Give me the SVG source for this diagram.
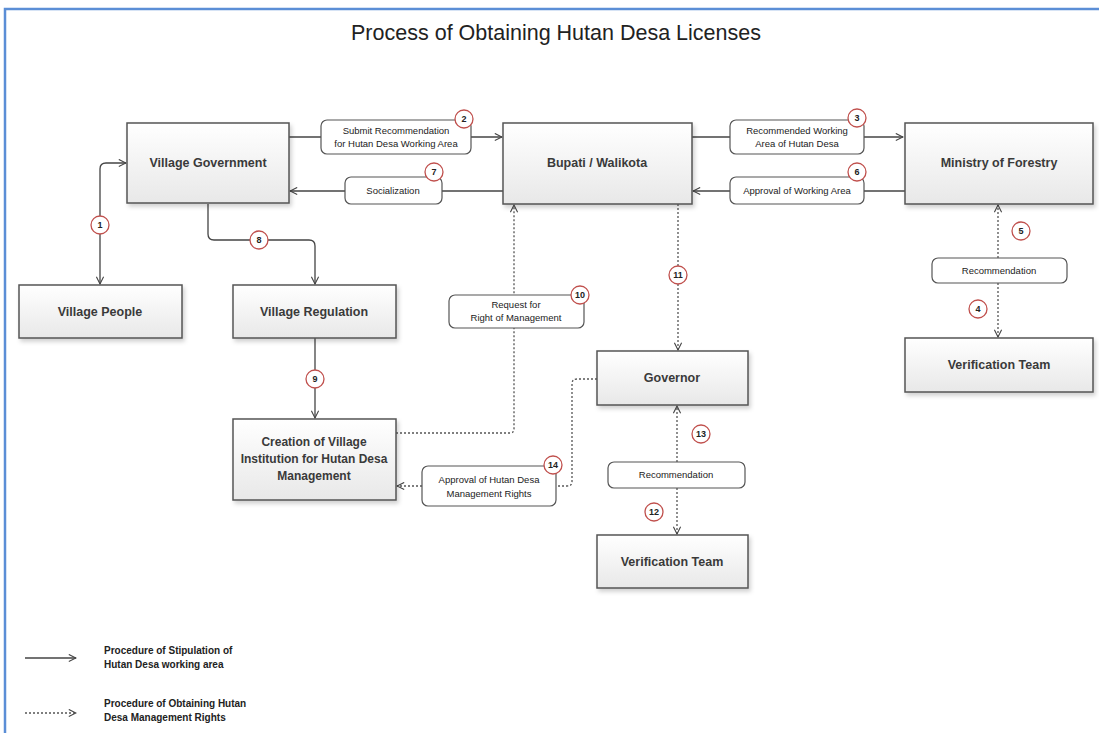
<svg xmlns="http://www.w3.org/2000/svg" width="1099" height="733" viewBox="0 0 1099 733">
<defs>
<linearGradient id="g" x1="0" y1="0" x2="0" y2="1">
<stop offset="0" stop-color="#ffffff"/>
<stop offset="1" stop-color="#e8e8e8"/>
</linearGradient>
<filter id="sh" x="-10%" y="-10%" width="130%" height="140%">
<feDropShadow dx="2" dy="3" stdDeviation="2" flood-color="#000" flood-opacity="0.18"/>
</filter>
<marker id="ah" viewBox="0 0 10 10" refX="9" refY="5" markerWidth="9" markerHeight="9" orient="auto-start-reverse" markerUnits="userSpaceOnUse">
<path d="M1,1 L9,5 L1,9" fill="none" stroke="#444" stroke-width="1.2"/>
</marker>
</defs>
<style>
.node rect{fill:url(#g);stroke:#555;stroke-width:1.5;filter:url(#sh)}
.node text{font-family:"Liberation Sans",Arial,sans-serif;font-size:12.5px;fill:#3a3a3a;text-anchor:middle;font-weight:bold}
.node text.c{font-size:12px}
.lbl rect{fill:#fff;stroke:#555;stroke-width:1.2}
.lbl text{font-family:"Liberation Sans",Arial,sans-serif;font-size:9.5px;fill:#222;text-anchor:middle}
.bd circle{fill:#fff;stroke:#c0504d;stroke-width:1.3}
.bd text{font-family:"Liberation Sans",Arial,sans-serif;font-size:9px;fill:#222;text-anchor:middle;font-weight:bold}
.s{fill:none;stroke:#444;stroke-width:1.3}
.d{fill:none;stroke:#555;stroke-width:1.3;stroke-dasharray:2,2}
.leg{font-family:"Liberation Sans",Arial,sans-serif;font-size:10px;fill:#222;font-weight:bold}
</style>
<rect width="1099" height="733" fill="#fff"/>
<path d="M5,733 V9 H1099" fill="none" stroke="#5b8ed6" stroke-width="2.5"/>
<text x="556" y="40" font-family="'Liberation Sans',Arial,sans-serif" font-size="21.5" fill="#222" text-anchor="middle">Process of Obtaining Hutan Desa Licenses</text>

<g id="connectors">
<path class="s" d="M126,163 H106 Q100,163 100,169 V284" marker-start="url(#ah)" marker-end="url(#ah)"/>
<path class="s" d="M289,137 H502" marker-end="url(#ah)"/>
<path class="s" d="M503,191 H290" marker-end="url(#ah)"/>
<path class="s" d="M692,137 H903" marker-end="url(#ah)"/>
<path class="s" d="M905,191 H693" marker-end="url(#ah)"/>
<path class="s" d="M208,204 V234 Q208,240 214,240 H309 Q315,240 315,246 V284" marker-end="url(#ah)"/>
<path class="s" d="M315,338 V418" marker-end="url(#ah)"/>
<path class="d" d="M396,433 H510 Q514,433 514,429 V205" marker-end="url(#ah)"/>
<path class="d" d="M678,204 V350" marker-end="url(#ah)"/>
<path class="d" d="M597,379 H577 Q572,379 572,384 V482 Q572,486 567,486 H556"/>
<path class="d" d="M422,486 H397" marker-end="url(#ah)"/>
<path class="d" d="M677,462 V406" marker-end="url(#ah)"/>
<path class="d" d="M677,488 V534" marker-end="url(#ah)"/>
<path class="d" d="M998,258 V205" marker-end="url(#ah)"/>
<path class="d" d="M998,283 V337" marker-end="url(#ah)"/>
</g>

<g id="n-village-government" class="node"><rect x="127" y="123" width="162" height="80"/><text x="208" y="167">Village Government</text></g>
<g id="n-bupati" class="node"><rect x="503" y="123" width="189" height="81"/><text x="597" y="167">Bupati / Walikota</text></g>
<g id="n-ministry" class="node"><rect x="905" y="123" width="188" height="81"/><text x="999" y="167">Ministry of Forestry</text></g>
<g id="n-village-people" class="node"><rect x="19" y="285" width="163" height="53"/><text x="100" y="316">Village People</text></g>
<g id="n-village-regulation" class="node"><rect x="233" y="285" width="163" height="53"/><text x="314" y="316">Village Regulation</text></g>
<g id="n-creation" class="node"><rect x="233" y="419" width="163" height="81"/><text class="c" x="314" y="446">Creation of Village</text><text class="c" x="314" y="463">Institution for Hutan Desa</text><text class="c" x="314" y="480">Management</text></g>
<g id="n-governor" class="node"><rect x="597" y="351" width="151" height="54"/><text x="672" y="382">Governor</text></g>
<g id="n-verif-mid" class="node"><rect x="597" y="535" width="151" height="53"/><text x="672" y="566">Verification Team</text></g>
<g id="n-verif-right" class="node"><rect x="905" y="338" width="188" height="54"/><text x="999" y="369">Verification Team</text></g>

<g id="l-2" class="lbl"><rect x="321" y="120" width="150" height="34" rx="6"/><text x="396" y="134">Submit Recommendation</text><text x="396" y="147">for Hutan Desa Working Area</text></g>
<g id="l-3" class="lbl"><rect x="730" y="120" width="134" height="34" rx="6"/><text x="797" y="134">Recommended Working</text><text x="797" y="147">Area of Hutan Desa</text></g>
<g id="l-7" class="lbl"><rect x="345" y="177" width="97" height="27" rx="6"/><text x="393" y="194">Socialization</text></g>
<g id="l-6" class="lbl"><rect x="730" y="177" width="134" height="27" rx="6"/><text x="797" y="194">Approval of Working Area</text></g>
<g id="l-rec-right" class="lbl"><rect x="932" y="258" width="135" height="25" rx="6"/><text x="999" y="274">Recommendation</text></g>
<g id="l-10" class="lbl"><rect x="449" y="295" width="135" height="33" rx="6"/><text x="516" y="308">Request for</text><text x="516" y="321">Right of Management</text></g>
<g id="l-14" class="lbl"><rect x="422" y="466" width="134" height="40" rx="6"/><text x="489" y="483">Approval of Hutan Desa</text><text x="489" y="497">Management Rights</text></g>
<g id="l-rec-mid" class="lbl"><rect x="608" y="462" width="137" height="26" rx="6"/><text x="676" y="478">Recommendation</text></g>

<g class="bd">
<g id="b1"><circle cx="100" cy="225" r="9"/><text x="100" y="228">1</text></g>
<g id="b2"><circle cx="464" cy="119" r="9"/><text x="464" y="122">2</text></g>
<g id="b3"><circle cx="857" cy="118" r="9"/><text x="857" y="121">3</text></g>
<g id="b4"><circle cx="978" cy="309" r="9"/><text x="978" y="312">4</text></g>
<g id="b5"><circle cx="1021" cy="231" r="9"/><text x="1021" y="234">5</text></g>
<g id="b6"><circle cx="857" cy="172" r="9"/><text x="857" y="175">6</text></g>
<g id="b7"><circle cx="434" cy="172" r="9"/><text x="434" y="175">7</text></g>
<g id="b8"><circle cx="259" cy="240" r="9"/><text x="259" y="243">8</text></g>
<g id="b9"><circle cx="315" cy="379" r="9"/><text x="315" y="382">9</text></g>
<g id="b10"><circle cx="580" cy="295" r="9"/><text x="580" y="298">10</text></g>
<g id="b11"><circle cx="678" cy="275" r="9"/><text x="678" y="278">11</text></g>
<g id="b12"><circle cx="654" cy="512" r="9"/><text x="654" y="515">12</text></g>
<g id="b13"><circle cx="701" cy="434" r="9"/><text x="701" y="437">13</text></g>
<g id="b14"><circle cx="553" cy="465" r="9"/><text x="553" y="468">14</text></g>
</g>

<g id="legend">
<path class="s" d="M25,658 H76" marker-end="url(#ah)"/>
<text class="leg" x="104" y="654">Procedure of Stipulation of</text>
<text class="leg" x="104" y="668">Hutan Desa working area</text>
<path class="d" d="M25,713 H76" marker-end="url(#ah)"/>
<text class="leg" x="104" y="707">Procedure of Obtaining Hutan</text>
<text class="leg" x="104" y="721">Desa Management Rights</text>
</g>
</svg>
